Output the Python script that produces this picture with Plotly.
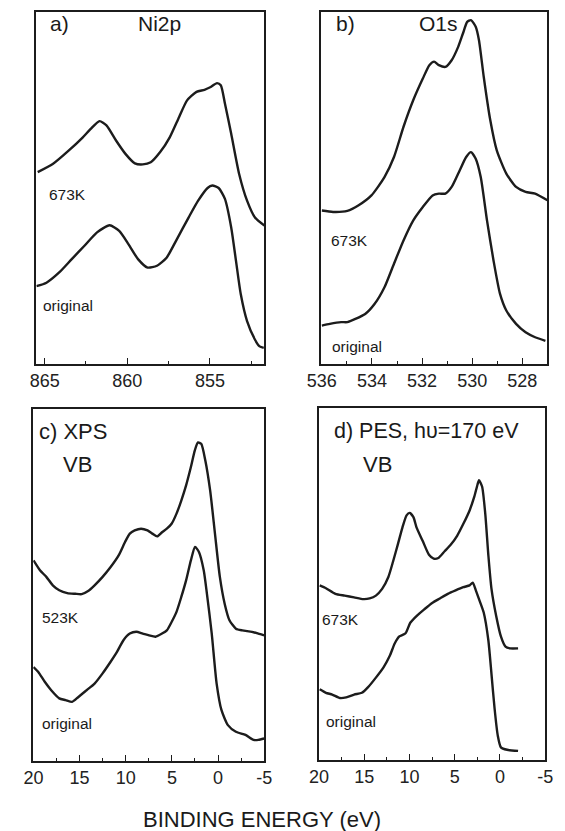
import plotly.graph_objects as go

W, H = 565, 831

# ---------------- data (binding energy in eV, intensity in arbitrary units) ----------------
ni_673_x = [865.42, 864.51, 863.55, 862.69, 862.21, 861.68, 861.26, 860.68, 860.11, 859.54,
            859.06, 858.58, 858.01, 857.43, 856.86, 856.38, 855.81, 855.33, 854.95, 854.57,
            854.34, 854.09, 853.71, 853.23, 852.75, 852.27, 851.70]
ni_673_y = [54.5, 56.8, 60.6, 64.4, 66.8, 69.0, 67.8, 63.5, 59.7, 57.0,
            56.7, 57.3, 60.2, 64.4, 70.2, 74.9, 77.3, 77.9, 78.7, 79.8,
            79.2, 74.0, 65.4, 54.0, 46.4, 41.6, 39.3]
ni_orig_x = [865.50, 864.89, 864.12, 863.36, 862.59, 861.83, 861.07, 860.49, 859.92, 859.35,
             858.77, 858.20, 857.62, 857.05, 856.29, 855.71, 855.14, 854.85, 854.47, 854.09,
             853.71, 853.42, 853.13, 852.75, 852.27, 851.99, 851.74]
ni_orig_y = [22.1, 23.1, 26.0, 29.8, 33.6, 37.4, 39.4, 37.8, 34.0, 29.8,
             27.4, 27.9, 30.2, 35.0, 41.6, 46.4, 50.0, 50.7, 50.0, 46.9,
             38.8, 29.3, 19.8, 12.2, 6.9, 5.0, 4.6]

o_673_x = [536.00, 535.55, 534.98, 534.53, 534.02, 533.50, 533.12, 532.74, 532.35, 531.97,
           531.71, 531.52, 531.33, 531.07, 530.82, 530.56, 530.37, 530.20, 530.05, 529.86,
           529.73, 529.54, 529.28, 529.02, 528.64, 528.25, 527.87, 527.49, 527.00]
o_673_y = [43.6, 43.2, 43.5, 45.1, 47.9, 53.1, 58.8, 67.4, 75.0, 81.1,
           84.9, 85.9, 84.9, 84.4, 86.3, 90.1, 93.9, 97.2, 97.7, 95.8,
           92.0, 81.6, 69.3, 60.7, 54.1, 50.3, 48.9, 48.4, 46.5]
o_orig_x = [536.00, 535.68, 535.23, 534.98, 534.66, 534.27, 533.89, 533.50, 533.12, 532.74,
            532.35, 531.97, 531.58, 531.33, 531.07, 530.82, 530.50, 530.24, 530.05, 529.86,
            529.66, 529.41, 529.15, 528.89, 528.64, 528.25, 527.87, 527.49, 527.08]
o_orig_y = [10.9, 11.4, 11.9, 11.9, 12.8, 14.2, 17.1, 21.8, 28.5, 35.1,
            40.8, 44.6, 47.9, 48.4, 48.4, 50.3, 55.0, 58.8, 60.2, 58.3,
            53.1, 40.8, 29.4, 19.9, 15.2, 11.4, 9.0, 7.6, 6.6]

xps_523_x = [20.00, 19.30, 18.61, 17.91, 17.21, 16.34, 15.47, 14.78, 14.08, 13.38,
             12.51, 11.64, 10.77, 10.08, 9.56, 9.03, 8.34, 7.64, 7.12, 6.59,
             6.07, 5.55, 5.03, 4.51, 3.98, 3.46, 2.94, 2.52, 2.17, 1.82,
             1.37, 0.85, 0.33, -0.20, -0.72, -1.24, -1.94, -2.63, -3.68, -4.37, -5.00]
xps_523_y = [57.0, 54.2, 52.3, 49.9, 48.5, 47.7, 47.5, 47.4, 48.3, 49.9,
             52.3, 55.1, 58.4, 62.2, 64.6, 65.5, 66.0, 65.5, 64.6, 63.8,
             65.0, 66.0, 67.4, 70.2, 74.0, 78.3, 83.5, 88.2, 90.5, 90.1,
             85.3, 76.8, 64.6, 52.3, 44.7, 40.0, 37.6, 37.1, 36.7, 36.2, 35.7]
xps_orig_x = [20.00, 19.48, 18.78, 18.08, 17.21, 16.52, 15.82, 15.13, 14.25, 13.38,
              12.51, 11.64, 10.95, 10.25, 9.56, 8.86, 8.16, 7.47, 6.77, 6.07,
              5.55, 5.03, 4.51, 3.98, 3.46, 2.94, 2.49, 2.07, 1.55, 1.20,
              0.68, 0.15, -0.37, -1.07, -1.94, -2.98, -3.85, -4.37, -5.00]
xps_orig_y = [26.7, 25.3, 22.5, 20.1, 17.8, 17.3, 16.8, 18.2, 20.1, 22.0,
              24.9, 28.2, 31.0, 34.3, 36.2, 36.7, 36.2, 35.7, 35.3, 36.2,
              37.1, 39.5, 42.3, 46.6, 51.3, 57.0, 60.8, 59.4, 54.2, 47.5,
              36.2, 22.0, 14.5, 10.2, 8.3, 7.4, 6.0, 6.0, 6.4]

pes_673_x = [19.93, 19.24, 18.20, 17.17, 16.13, 15.10, 14.41, 13.72, 13.03, 12.34,
             11.82, 11.30, 10.78, 10.33, 9.99, 9.57, 9.23, 8.54, 7.85, 7.33,
             6.81, 6.12, 5.43, 4.74, 4.05, 3.36, 2.84, 2.49, 2.32, 1.98,
             1.63, 1.29, 0.94, 0.42, -0.10, -0.61, -1.13, -2.00]
pes_673_y = [49.6, 48.8, 47.2, 46.7, 46.2, 45.7, 45.9, 46.7, 48.6, 52.0,
             56.4, 61.2, 66.1, 69.5, 70.2, 69.0, 66.1, 62.2, 58.3, 57.2,
             57.4, 59.3, 61.2, 63.7, 67.1, 70.9, 74.8, 78.2, 79.5, 77.7,
             70.0, 58.3, 48.6, 40.9, 35.1, 32.2, 31.7, 31.7]
pes_orig_x = [19.93, 19.24, 18.55, 17.69, 17.00, 16.13, 15.27, 14.58, 13.72, 12.86,
              12.17, 11.64, 11.13, 10.44, 9.92, 9.23, 8.37, 7.50, 6.64, 5.77,
              4.91, 4.05, 3.36, 3.01, 2.67, 2.32, 1.80, 1.29, 0.94, 0.60,
              0.25, -0.10, -0.79, -2.00]
pes_orig_y = [20.1, 19.1, 18.6, 17.6, 17.8, 18.6, 19.1, 20.7, 23.4, 26.4,
              29.7, 33.1, 35.1, 36.0, 39.0, 40.9, 42.8, 44.6, 45.9, 47.2,
              48.2, 49.1, 49.6, 50.4, 48.2, 45.7, 41.9, 34.1, 24.4, 14.7,
              7.0, 3.6, 2.9, 2.6]

ticks_a = [865, 860, 855]
ticks_b = [536, 534, 532, 530, 528]
ticks_cd = [20, 15, 10, 5, 0, -5]

# ---------------- layout helpers ----------------
def px_x(p):
    return p / W

def px_y(p):
    return 1 - p / H

LINE = "#1c1c1c"
FONT = "Liberation Sans, Arial, sans-serif"

panels = [
    # axis suffix, x-px range, y-px range, x range, major ticks, minor dtick
    ("", (22.3, 260), (12, 364), [865.5, 851.7], ticks_a, 2.5),
    ("2", (319.3, 555), (12, 364), [536.02, 527.0], ticks_b, 1),
    ("3", (19, 260), (409, 761), [20.03, -5.03], ticks_cd, 2.5),
    ("4", (316.7, 553), (408, 760), [20.03, -5.03], ticks_cd, 2.5),
]

series = [
    [(ni_673_x, ni_673_y), (ni_orig_x, ni_orig_y)],
    [(o_673_x, o_673_y), (o_orig_x, o_orig_y)],
    [(xps_523_x, xps_523_y), (xps_orig_x, xps_orig_y)],
    [(pes_673_x, pes_673_y), (pes_orig_x, pes_orig_y)],
]

fig = go.Figure()
layout = {}
for (suf, xr_px, yr_px, xrange, tickv, minor), ser in zip(panels, series):
    for xs, ys in ser:
        fig.add_trace(go.Scatter(x=xs, y=ys, mode="lines",
                                 line=dict(color=LINE, width=2.4, shape="spline", smoothing=0.6),
                                 xaxis="x" + suf, yaxis="y" + suf, showlegend=False,
                                 hoverinfo="skip"))
    layout["xaxis" + suf] = dict(
        domain=[px_x(xr_px[0]), px_x(xr_px[1])], range=xrange, anchor="y" + suf,
        tickmode="array", tickvals=tickv, ticktext=[str(v) for v in tickv],
        ticks="inside", ticklen=6, tickwidth=1.3, tickcolor=LINE,
        showline=True, linecolor=LINE, linewidth=1.5, mirror=True,
        showgrid=False, zeroline=False,
        tickfont=dict(family=FONT, size=18, color="#222"),
        minor=dict(tickmode="linear", tick0=0, dtick=minor, ticks="inside", ticklen=3,
                   tickwidth=1.1, tickcolor=LINE, showgrid=False),
    )
    layout["yaxis" + suf] = dict(
        domain=[px_y(yr_px[1]), px_y(yr_px[0])], range=[0, 100], anchor="x" + suf,
        showticklabels=False, ticks="", showline=True, linecolor=LINE, linewidth=1.5,
        mirror=True, showgrid=False, zeroline=False,
    )

fig.update_layout(**layout)

annots = [
    # text, x px (left), y px (center), size
    ("a)", 34, 24, 21),
    ("Ni2p", 126, 24, 21),
    ("b)", 333, 24, 21),
    ("O1s", 419, 24, 21),
    ("673K", 33, 194, 15.5),
    ("original", 27, 305, 15.5),
    ("673K", 327, 241, 15.5),
    ("original", 328, 346, 15.5),
    ("c) XPS", 23, 431, 22),
    ("VB", 48, 464, 22),
    ("d) PES, h\u03c5=170 eV", 330, 431, 21.5),
    ("VB", 361, 464, 22),
    ("523K", 26, 617, 15.5),
    ("original", 26, 723, 15.5),
    ("673K", 318, 619, 15.5),
    ("original", 322, 721, 15.5),
]
for t, x, y, s in annots:
    fig.add_annotation(text=t, x=px_x(x), y=px_y(y), xref="paper", yref="paper",
                       xanchor="left", yanchor="middle", showarrow=False,
                       font=dict(family=FONT, size=s, color="#1a1a1a"))

fig.add_annotation(text="BINDING ENERGY (eV)", x=px_x(258), y=px_y(819), xref="paper",
                   yref="paper", xanchor="center", yanchor="middle", showarrow=False,
                   font=dict(family=FONT, size=22, color="#1a1a1a"))

fig.update_layout(width=W, height=H, margin=dict(l=0, r=0, t=0, b=0),
                  paper_bgcolor="white", plot_bgcolor="white")

fig.write_html("out.html")
